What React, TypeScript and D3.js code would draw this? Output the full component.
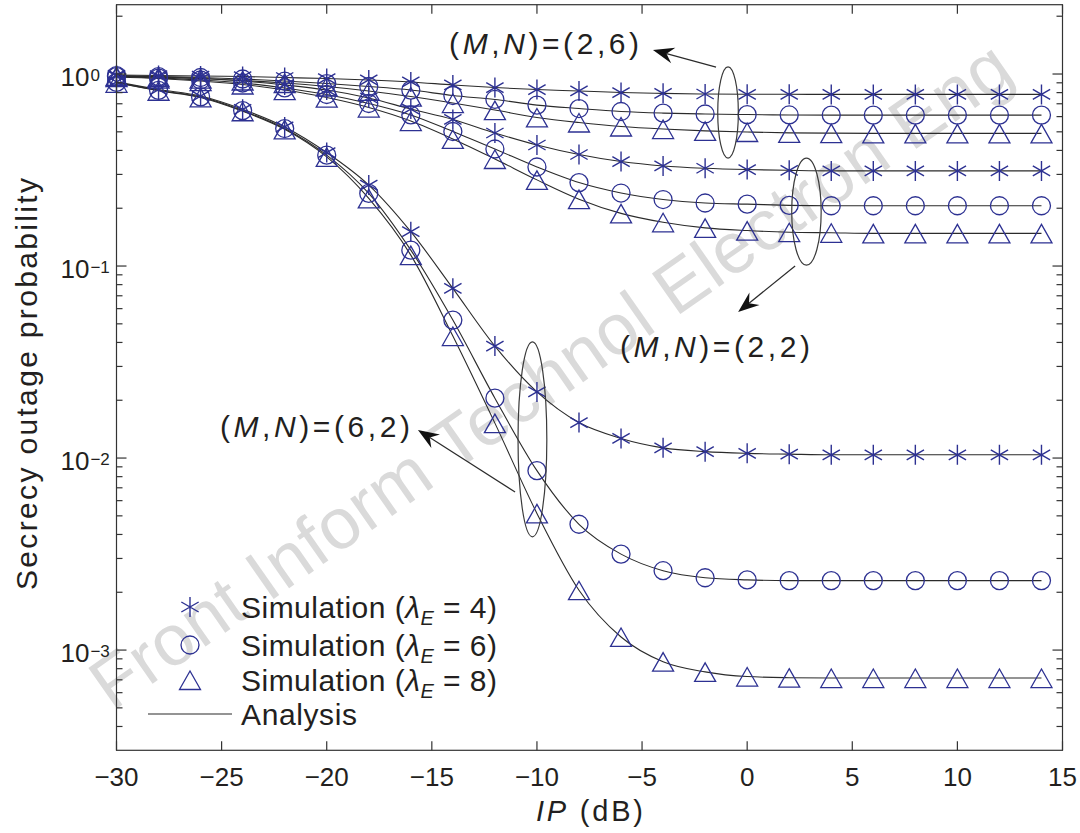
import React, { useEffect, useRef } from "react";
import * as d3 from "d3";

// IP (dB) sample points
const ipDb = [-30, -28, -26, -24, -22, -20, -18, -16, -14, -12, -10, -8, -6, -4, -2, 0, 2, 4, 6, 8, 10, 12, 14];

// (M,N) = (2,6)
const mn26Lam4 = [0.988, 0.982, 0.976, 0.97, 0.959, 0.947, 0.931, 0.909, 0.877, 0.85, 0.83, 0.816, 0.801, 0.793, 0.787, 0.784, 0.784, 0.783, 0.783, 0.783, 0.783, 0.783, 0.783];
const mn26Lam6 = [0.982, 0.97, 0.959, 0.942, 0.919, 0.892, 0.861, 0.825, 0.773, 0.737, 0.689, 0.661, 0.638, 0.626, 0.619, 0.615, 0.612, 0.611, 0.611, 0.611, 0.611, 0.611, 0.611];
const mn26Lam8 = [0.976, 0.965, 0.947, 0.925, 0.898, 0.861, 0.816, 0.763, 0.706, 0.649, 0.594, 0.559, 0.533, 0.517, 0.506, 0.499, 0.494, 0.492, 0.491, 0.491, 0.491, 0.491, 0.491];

// (M,N) = (2,2)
const mn22Lam4 = [0.976, 0.965, 0.947, 0.919, 0.877, 0.825, 0.75, 0.657, 0.58, 0.493, 0.427, 0.381, 0.35, 0.332, 0.323, 0.318, 0.315, 0.313, 0.313, 0.313, 0.313, 0.313, 0.313];
const mn22Lam6 = [0.97, 0.953, 0.931, 0.898, 0.846, 0.782, 0.702, 0.612, 0.502, 0.407, 0.328, 0.272, 0.24, 0.222, 0.213, 0.21, 0.207, 0.206, 0.206, 0.206, 0.206, 0.206, 0.206];
const mn22Lam8 = [0.965, 0.947, 0.919, 0.882, 0.825, 0.754, 0.669, 0.569, 0.459, 0.361, 0.281, 0.223, 0.188, 0.169, 0.158, 0.153, 0.15, 0.149, 0.148, 0.148, 0.148, 0.148, 0.148];

// (M,N) = (6,2)
const mn62Lam4 = [0.91, 0.83, 0.768, 0.655, 0.53, 0.39, 0.264, 0.151, 0.0765, 0.0383, 0.0221, 0.0153, 0.01265, 0.0113, 0.0108, 0.01058, 0.01048, 0.0104, 0.0104, 0.0104, 0.0104, 0.0104, 0.0104];
const mn62Lam6 = [0.905, 0.822, 0.76, 0.645, 0.52, 0.378, 0.239, 0.121, 0.0523, 0.0205, 0.0086, 0.00452, 0.00316, 0.00259, 0.00238, 0.00232, 0.0023, 0.0023, 0.0023, 0.0023, 0.0023, 0.0023, 0.0023];
const mn62Lam8 = [0.9, 0.818, 0.755, 0.64, 0.515, 0.37, 0.225, 0.114, 0.0432, 0.0152, 0.00515, 0.00205, 0.00117, 0.00087, 0.00077, 0.000728, 0.000718, 0.000715, 0.000715, 0.000715, 0.000715, 0.000715, 0.000715];

const xTicks = [-30, -25, -20, -15, -10, -5, 0, 5, 10, 15];
const yDecades = [0, -1, -2, -3];
const lambdaLabels = ["4", "6", "8"];

// annotation groups, in data coordinates
const groupPairs = ["2,6", "2,2", "6,2"];
const labelPos = [[-14.18, 1.271], [-6.05, 0.0336], [-25.08, 0.01286]];
const ellipseBox = [[-1.4, -0.42, 0.365, 1.09], [2.12, 3.52, 0.101, 0.365], [-10.9, -9.53, 0.00389, 0.0403]];
const arrowFrom = [[-1.48, 1.087], [2.28, 0.1], [-11.04, 0.00665]];
const arrowTo = [[-4.48, 1.333], [-0.43, 0.0576], [-15.66, 0.014]];

type Marker = "star" | "circle" | "triangle";

const FONT = "'Liberation Sans', Arial, Helvetica, sans-serif";
const BLUE = "#2d3192";
const INK = "#231f20";

function App() {
  const ref = useRef<SVGSVGElement>(null);

  useEffect(() => {
    drawChart();
  }, []);

  function drawMarker(g: any, kind: Marker, cx: number, cy: number) {
    if (kind === "circle") {
      g.append("circle").attr("cx", cx).attr("cy", cy).attr("r", 9)
        .attr("fill", "none").attr("stroke", BLUE).attr("stroke-width", 1.3);
    } else if (kind === "triangle") {
      g.append("path")
        .attr("d", `M${cx},${cy - 9} L${cx + 10.5},${cy + 9.5} L${cx - 10.5},${cy + 9.5} Z`)
        .attr("fill", "none").attr("stroke", BLUE).attr("stroke-width", 1.3);
    } else {
      const r = 10;
      const d = [90, 30, 150].map((a) => {
        const dx = r * Math.cos((a * Math.PI) / 180);
        const dy = r * Math.sin((a * Math.PI) / 180);
        return `M${cx - dx},${cy + dy} L${cx + dx},${cy - dy}`;
      }).join(" ");
      g.append("path").attr("d", d).attr("fill", "none").attr("stroke", BLUE).attr("stroke-width", 1.4);
    }
  }

  function drawChart() {
    const svg = d3.select(ref.current);
    svg.selectAll("*").remove();

    const left = 116.5, right = 1062.5, top = 4.7, bottom = 750.3;
    const x = d3.scaleLinear().domain([-30, 15]).range([left, right]);
    const y = d3.scaleLog().domain([10 ** -3.522, 10 ** 0.361]).range([bottom, top]);

    svg.append("rect").attr("width", 1080).attr("height", 833).attr("fill", "#fff");

    // watermark
    svg.append("text")
      .attr("transform", "translate(112,712) rotate(-35)")
      .attr("font-family", FONT).attr("font-size", 72)
      .attr("fill", "#dadada")
      .attr("textLength", 1105).attr("lengthAdjust", "spacing")
      .text("Front Inform Technol Electron Eng");

    const series = [
      { values: mn26Lam4, marker: "star" as Marker },
      { values: mn26Lam6, marker: "circle" as Marker },
      { values: mn26Lam8, marker: "triangle" as Marker },
      { values: mn22Lam4, marker: "star" as Marker },
      { values: mn22Lam6, marker: "circle" as Marker },
      { values: mn22Lam8, marker: "triangle" as Marker },
      { values: mn62Lam4, marker: "star" as Marker },
      { values: mn62Lam6, marker: "circle" as Marker },
      { values: mn62Lam8, marker: "triangle" as Marker },
    ];

    const line = d3.line<number>()
      .x((_, i) => x(ipDb[i]))
      .y((d) => y(d))
      .curve(d3.curveMonotoneX);

    const lines = svg.append("g");
    series.forEach((s) => {
      lines.append("path").attr("d", line(s.values))
        .attr("fill", "none").attr("stroke", "#2b2b2b").attr("stroke-width", 1.1);
    });

    const marks = svg.append("g");
    series.forEach((s) => {
      s.values.forEach((v, i) => drawMarker(marks, s.marker, x(ipDb[i]), y(v)));
    });

    // annotations
    const ann = svg.append("g");
    ellipseBox.forEach(([x0, x1, y0, y1]) => {
      ann.append("ellipse")
        .attr("cx", (x(x0) + x(x1)) / 2).attr("cy", (y(y0) + y(y1)) / 2)
        .attr("rx", (x(x1) - x(x0)) / 2).attr("ry", (y(y0) - y(y1)) / 2)
        .attr("fill", "none").attr("stroke", "#3a3a3a").attr("stroke-width", 1.2);
    });
    arrowFrom.forEach((f, i) => {
      const t = arrowTo[i];
      const x0 = x(f[0]), y0 = y(f[1]), x1 = x(t[0]), y1 = y(t[1]);
      const len = Math.hypot(x1 - x0, y1 - y0);
      const ux = (x1 - x0) / len, uy = (y1 - y0) / len;
      const nx = -uy, ny = ux;
      const L = 21, W = 8, ind = 7;
      ann.append("line").attr("x1", x0).attr("y1", y0)
        .attr("x2", x1 - ux * (L - ind)).attr("y2", y1 - uy * (L - ind))
        .attr("stroke", "#2b2b2b").attr("stroke-width", 1.2);
      ann.append("path")
        .attr("d", `M${x1},${y1} L${x1 - ux * L + nx * W},${y1 - uy * L + ny * W} L${x1 - ux * (L - ind)},${y1 - uy * (L - ind)} L${x1 - ux * L - nx * W},${y1 - uy * L - ny * W} Z`)
        .attr("fill", "#111");
    });
    groupPairs.forEach((p, i) => {
      const t = ann.append("text")
        .attr("x", x(labelPos[i][0])).attr("y", y(labelPos[i][1]))
        .attr("font-family", FONT).attr("font-size", 30).attr("fill", INK)
        .attr("textLength", 190).attr("lengthAdjust", "spacing");
      t.append("tspan").text("(");
      t.append("tspan").attr("font-style", "italic").text("M");
      t.append("tspan").text(",");
      t.append("tspan").attr("font-style", "italic").text("N");
      t.append("tspan").text(`)=(${p})`);
    });

    // axes box and ticks
    const axis = svg.append("g").attr("stroke", "#333").attr("stroke-width", 1.2);
    axis.append("rect").attr("x", left).attr("y", top)
      .attr("width", right - left).attr("height", bottom - top).attr("fill", "none");
    xTicks.forEach((t) => {
      const px = x(t);
      axis.append("line").attr("x1", px).attr("x2", px).attr("y1", bottom).attr("y2", bottom - 9);
      axis.append("line").attr("x1", px).attr("x2", px).attr("y1", top).attr("y2", top + 9);
    });
    const [yMin, yMax] = y.domain();
    for (let k = -4; k <= 0; k++) {
      for (let m = 1; m <= 9; m++) {
        const v = m * 10 ** k;
        if (v < yMin || v > yMax) continue;
        const py = y(v);
        const len = m === 1 ? 10 : 6;
        axis.append("line").attr("x1", left).attr("x2", left + len).attr("y1", py).attr("y2", py);
        axis.append("line").attr("x1", right).attr("x2", right - len).attr("y1", py).attr("y2", py);
      }
    }

    const labels = svg.append("g").attr("font-family", FONT).attr("fill", INK);
    xTicks.forEach((t) => {
      labels.append("text").attr("x", x(t)).attr("y", 786)
        .attr("text-anchor", "middle").attr("font-size", 26)
        .text(t < 0 ? `\u2212${-t}` : `${t}`);
    });
    yDecades.forEach((e) => {
      const t = labels.append("text").attr("x", 60.5).attr("y", y(10 ** e) + 11.5).attr("font-size", 26);
      t.append("tspan").text("10");
      t.append("tspan").attr("font-size", 17).attr("dy", -4.8).attr("dx", 1)
        .text(e < 0 ? `\u2212${-e}` : `${e}`);
    });

    const xt = labels.append("text").attr("x", (left + right) / 2).attr("y", 821)
      .attr("text-anchor", "middle").attr("font-size", 29)
      .attr("textLength", 107).attr("lengthAdjust", "spacing");
    xt.append("tspan").attr("font-style", "italic").text("IP");
    xt.append("tspan").text(" (dB)");

    labels.append("text")
      .attr("transform", "translate(36.5,384) rotate(-90)")
      .attr("text-anchor", "middle").attr("font-size", 30)
      .attr("textLength", 412).attr("lengthAdjust", "spacing")
      .text("Secrecy outage probability");

    // legend
    const lg = svg.append("g");
    const rowY = [607, 645, 680];
    const kinds: Marker[] = ["star", "circle", "triangle"];
    lambdaLabels.forEach((lam, i) => {
      drawMarker(lg, kinds[i], 190, rowY[i]);
      const t = lg.append("text").attr("x", 241).attr("y", rowY[i] + 10.5)
        .attr("font-family", FONT).attr("font-size", 30).attr("fill", INK)
        .attr("textLength", 256).attr("lengthAdjust", "spacing");
      t.append("tspan").text("Simulation (");
      t.append("tspan").attr("font-style", "italic").text("\u03bb");
      t.append("tspan").attr("font-style", "italic").attr("font-size", 20).attr("dy", 7).text("E");
      t.append("tspan").attr("dy", -7).text(` = ${lam})`);
    });
    lg.append("line").attr("x1", 148).attr("x2", 232).attr("y1", 714).attr("y2", 714)
      .attr("stroke", "#2b2b2b").attr("stroke-width", 1.2);
    lg.append("text").attr("x", 241).attr("y", 724.5)
      .attr("font-family", FONT).attr("font-size", 30).attr("fill", INK)
      .attr("textLength", 116).attr("lengthAdjust", "spacing")
      .text("Analysis");
  }

  return (
    <svg
      ref={ref}
      width={1080}
      height={833}
      style={{ position: "absolute", left: 0, top: 0 }}
    />
  );
}

export default App;
